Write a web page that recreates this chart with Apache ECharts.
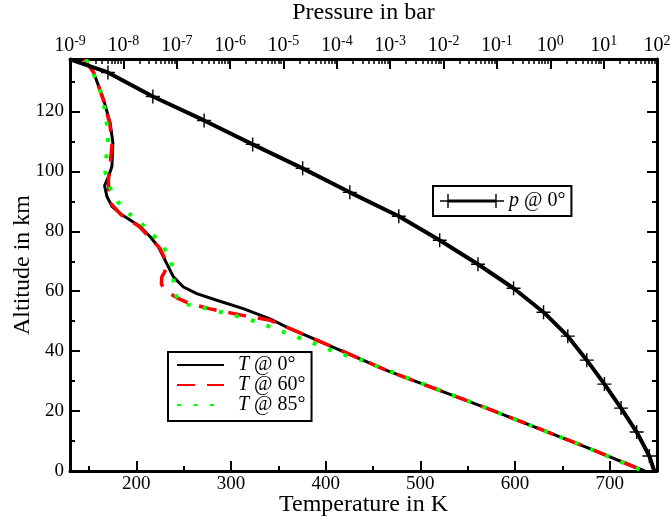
<!DOCTYPE html>
<html><head><meta charset="utf-8">
<script src="https://cdn.jsdelivr.net/npm/echarts@6/dist/echarts.min.js"></script>
<style>html,body{margin:0;padding:0;background:#fff}#c{width:671px;height:521px}</style>
</head><body><div id="c"></div>
<script>
// ---- axis ticks ----
const tempMajorTicks = [200, 300, 400, 500, 600, 700];
const tempMinorTicks = [150, 250, 350, 450, 550, 650];
const altMajorTicks = [0, 20, 40, 60, 80, 100, 120];
const altMinorTicks = [10, 30, 50, 70, 90, 110, 130];
const pressureExponents = [-9, -8, -7, -6, -5, -4, -3, -2, -1, 0, 1, 2];

// ---- pressure profile p @ 0° (bar vs km) ----
const presAlt = [137.4, 133, 125, 117, 109, 101, 93, 85, 77, 69, 61, 53, 45, 37, 29, 21, 13, 5, 0];
const presBar = [1e-9, 5.14e-9, 3.57e-8, 3.26e-7, 2.65e-6, 2.29e-5, 1.75e-4, 1.45e-3, 8.47e-3, 0.0442, 0.205, 0.748, 2.13, 4.83, 10.35, 21.2, 41.6, 71.9, 89];

// ---- temperature profiles (K vs km) ----
const alt0 = [137.4, 133, 124, 116, 109.5, 101.7, 98.3, 95.2, 91.6, 88.3, 85.5, 81.6, 78.2, 74.8, 70.3, 64.8, 61.4, 59.2, 57, 54.2, 50.8, 48, 44.7, 41.8, 33.5, 21, 8, 0];
const temp0 = [145, 155, 165.4, 172.5, 175.3, 174.3, 170.7, 166.5, 169, 174.3, 184.8, 204.2, 214.7, 223.4, 230.5, 239.2, 249.8, 263.9, 285, 313, 341.2, 358.8, 383.4, 404.6, 465, 570, 675, 737];

const alt60 = [137.4, 133, 124, 116, 109.5, 101, 97, 93, 89, 85.5, 81.6, 78, 74.3, 70.6, 68.8, 66.5, 64.8, 62.5, 61, 59.5, 57.5, 55.8, 54.1, 52.1, 50.3, 48, 44.7, 41.8, 33.5, 21, 8, 0];
const temp60 = [145, 155, 165, 172, 174.5, 172, 170.5, 171, 174, 184, 203, 214, 225, 230.6, 232, 230, 227, 226.5, 228.8, 234, 244.7, 257, 278, 309.7, 341.4, 358.8, 383.4, 404.6, 465, 570, 675, 736];

const alt85 = [137.4, 131, 126, 121, 115.6, 110.4, 105, 99.7, 94.7, 89.9, 86, 82.7, 79.1, 75.1, 70.6, 65.6, 60.3, 56.1, 55, 53.9, 52.5, 51.2, 49.7, 47.8, 46, 44.1, 42.2, 40.2, 38.5, 37, 35, 21, 8, 0];
const temp85 = [147, 157, 163, 166.6, 169, 170.2, 168.4, 167.3, 172, 180.3, 192, 205, 217, 228, 236.6, 239.4, 239.4, 245.7, 263, 279, 296, 312, 328, 344, 359, 375, 391, 406.5, 422, 438, 454, 570, 675, 735];

const FONT = 'Liberation Serif';
const plusPath = 'path://M9,0H11V9H20V11H11V20H9V11H0V9H9Z';
const presLegendIcon = 'path://M8,5.5H56V8.5H8Z M0,6.3H16V7.7H0Z M7.3,0H8.7V14H7.3Z M48,6.3H64V7.7H48Z M55.3,0H56.7V14H55.3Z';

const pressureValues = pressureExponents.map(e => Math.pow(10, e));
const pressureMinor = [];
pressureExponents.slice(0, -1).forEach(e => { for (let m = 2; m <= 9; m++) pressureMinor.push(m * Math.pow(10, e)); });

const lineAx = { show: true, onZero: false, lineStyle: { color: '#000', width: 3 } };
const noLine = { show: false, onZero: false };
const lbl = { color: '#000', fontFamily: FONT, fontSize: 19 };
const nameStyle = { color: '#000', fontFamily: FONT, fontSize: 24 };

const chart = echarts.init(document.getElementById('c'), null, { renderer: 'canvas' });
const option = {
  animation: false,
  backgroundColor: '#fff',
  grid: { left: 70, right: 14, top: 59, bottom: 50, outerBoundsMode: 'none', containLabel: false },
  xAxis: [
    { type: 'value', position: 'bottom', min: 130, max: 750,
      name: 'Temperature in K', nameLocation: 'middle', nameGap: 22, nameMoveOverlap: false,
      nameTextStyle: nameStyle,
      axisLine: lineAx, splitLine: { show: false },
      axisTick: { show: true, inside: true, length: 10, customValues: tempMajorTicks, lineStyle: { color: '#000', width: 2 } },
      axisLabel: Object.assign({ margin: 4, customValues: tempMajorTicks }, lbl) },
    { type: 'value', position: 'bottom', min: 130, max: 750,
      axisLine: noLine, splitLine: { show: false },
      axisTick: { show: true, inside: true, length: 5, customValues: tempMinorTicks, lineStyle: { color: '#000', width: 2 } },
      axisLabel: { show: false } },
    { type: 'log', logBase: 10, position: 'top', min: 1e-9, max: 100,
      name: 'Pressure in bar', nameLocation: 'middle', nameGap: 34, nameMoveOverlap: false,
      nameTextStyle: nameStyle,
      axisLine: lineAx, splitLine: { show: false },
      axisTick: { show: true, inside: true, length: 10, customValues: pressureValues, lineStyle: { color: '#000', width: 2 } },
      axisLabel: { show: true, margin: 1, customValues: pressureValues, showMinLabel: true, showMaxLabel: true,
        color: '#000', fontFamily: FONT, fontSize: 19, hideOverlap: false,
        formatter: v => '{b|10}{s|' + Math.round(Math.log10(v)) + '}',
        rich: {
          b: { color: '#000', fontFamily: FONT, fontSize: 20, lineHeight: 24 },
          s: { color: '#000', fontFamily: FONT, fontSize: 14, lineHeight: 14, verticalAlign: 'top' }
        } } },
    { type: 'log', logBase: 10, position: 'top', min: 1e-9, max: 100,
      axisLine: noLine, splitLine: { show: false },
      axisTick: { show: true, inside: true, length: 5, customValues: pressureMinor, lineStyle: { color: '#000', width: 1.5 } },
      axisLabel: { show: false } }
  ],
  yAxis: [
    { type: 'value', position: 'left', min: 0, max: 137.5,
      name: 'Altitude in km', nameLocation: 'middle', nameGap: 35, nameMoveOverlap: false,
      nameTextStyle: nameStyle,
      axisLine: lineAx, splitLine: { show: false },
      axisTick: { show: true, inside: true, length: 10, customValues: altMajorTicks, lineStyle: { color: '#000', width: 2 } },
      axisLabel: Object.assign({ margin: 6, customValues: altMajorTicks }, lbl) },
    { type: 'value', position: 'left', min: 0, max: 137.5,
      axisLine: noLine, splitLine: { show: false },
      axisTick: { show: true, inside: true, length: 5, customValues: altMinorTicks, lineStyle: { color: '#000', width: 2 } },
      axisLabel: { show: false } },
    { type: 'value', position: 'right', min: 0, max: 137.5,
      axisLine: lineAx, splitLine: { show: false },
      axisTick: { show: true, inside: true, length: 10, customValues: altMajorTicks, lineStyle: { color: '#000', width: 2 } },
      axisLabel: { show: false } },
    { type: 'value', position: 'right', min: 0, max: 137.5,
      axisLine: noLine, splitLine: { show: false },
      axisTick: { show: true, inside: true, length: 5, customValues: altMinorTicks, lineStyle: { color: '#000', width: 2 } },
      axisLabel: { show: false } }
  ],
  legend: [
    { data: [{ name: 'p @ 0°', icon: presLegendIcon, itemStyle: { color: '#000', borderWidth: 0 } }],
      left: 433, top: 186, orient: 'horizontal', selectedMode: false,
      itemWidth: 64, itemHeight: 14, padding: [5, 6, 5, 7],
      borderColor: '#000', borderWidth: 2, backgroundColor: '#fff', borderRadius: 0,
      formatter: n => '{i|' + n.slice(0, 1) + '}{r|' + n.slice(1) + '}',
      textStyle: { color: '#000', fontFamily: FONT, fontSize: 20, lineHeight: 20,
        rich: { i: { fontStyle: 'italic', fontFamily: FONT, fontSize: 20, color: '#000' }, r: { fontFamily: FONT, fontSize: 20, color: '#000' } } } },
    { data: ['T @ 0°', 'T @ 60°', 'T @ 85°'],
      left: 168, top: 352, orient: 'vertical', selectedMode: false,
      itemWidth: 47, itemHeight: 14, itemGap: 0, padding: [3, 6, 6, 8],
      itemStyle: { opacity: 0 },
      borderColor: '#000', borderWidth: 2, backgroundColor: '#fff', borderRadius: 0,
      formatter: n => '{i|' + n.slice(0, 1) + '}{r|' + n.slice(1) + '}',
      textStyle: { color: '#000', fontFamily: FONT, fontSize: 20, lineHeight: 19,
        rich: { i: { fontStyle: 'italic', fontFamily: FONT, fontSize: 20, color: '#000', padding: [0, 0, 0, 9] }, r: { fontFamily: FONT, fontSize: 20, color: '#000' } } } }
  ],
  series: [
    { name: 'T @ 0°', type: 'line', xAxisIndex: 0, yAxisIndex: 0, symbol: 'none',
      lineStyle: { color: '#000', width: 3, type: 'solid' }, itemStyle: { color: '#000' },
      data: temp0.map((t, i) => [t, alt0[i]]) },
    { name: 'T @ 60°', type: 'line', xAxisIndex: 0, yAxisIndex: 0, symbol: 'none',
      lineStyle: { color: '#ff0000', width: 3.5, type: [18, 12] }, itemStyle: { color: '#ff0000' },
      data: temp60.map((t, i) => [t, alt60[i]]) },
    { name: 'T @ 85°', type: 'line', xAxisIndex: 0, yAxisIndex: 0, symbol: 'none',
      lineStyle: { color: '#00ff00', width: 4, type: [4, 12.5], cap: 'butt' }, itemStyle: { color: '#00ff00' },
      data: temp85.map((t, i) => [t, alt85[i]]) },
    { name: 'p @ 0°', type: 'line', xAxisIndex: 2, yAxisIndex: 0,
      symbol: plusPath, symbolSize: 14, showAllSymbol: true,
      lineStyle: { color: '#000', width: 4 }, itemStyle: { color: '#000' },
      data: presBar.map((p, i) => {
        const marked = presAlt[i] > 1 && presAlt[i] < 135;
        return { value: [p, presAlt[i]], symbol: marked ? plusPath : 'none' };
      }) }
  ]
};
chart.setOption(option);
</script>
</body></html>
